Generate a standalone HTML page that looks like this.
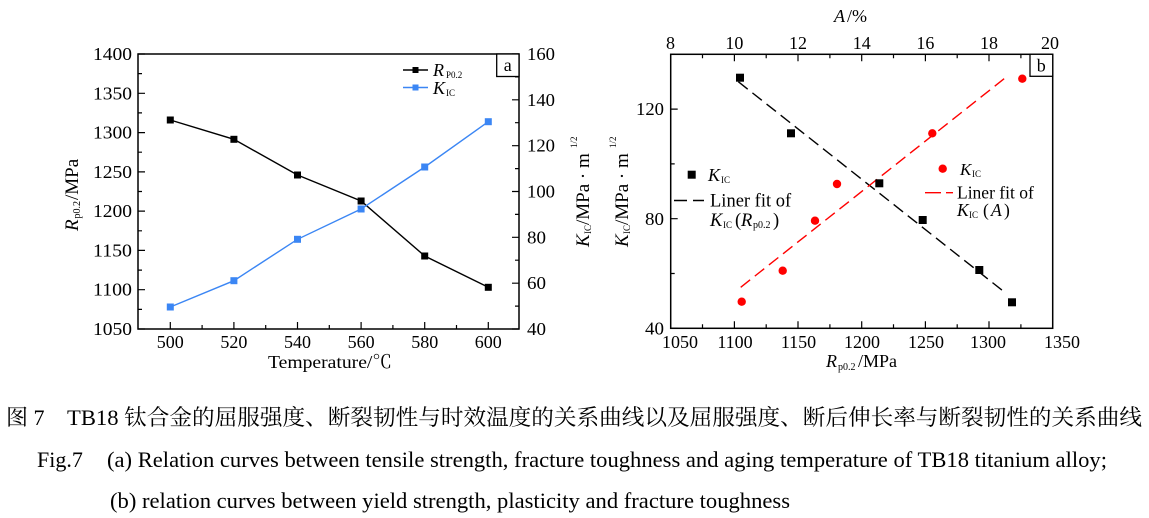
<!DOCTYPE html>
<html><head><meta charset="utf-8"><style>
html,body{margin:0;padding:0;background:#fff;}
svg{display:block;}
text{font-family:"Liberation Serif","Noto Serif CJK SC",serif;fill:#000;}
.cap{font-family:"Liberation Serif","Noto Serif CJK SC","Noto Sans CJK SC",serif;}
</style></head><body>
<svg width="1149" height="518" viewBox="0 0 1149 518" xmlns="http://www.w3.org/2000/svg">
<rect width="1149" height="518" fill="#fff"/>

<!-- ============ CHART A ============ -->
<g stroke="#000" stroke-width="1.5" fill="none">
<rect x="138" y="54" width="381" height="275"/>
</g>
<g stroke="#000" stroke-width="1.2">
<path d="M138 329h7M138 289.7h7M138 250.4h7M138 211.1h7M138 171.9h7M138 132.6h7M138 93.3h7M138 54h7"/>
<path d="M138 309.4h4M138 270.1h4M138 230.8h4M138 191.5h4M138 152.2h4M138 112.9h4M138 73.6h4"/>
<path d="M519 329h-7M519 283.2h-7M519 237.3h-7M519 191.5h-7M519 145.7h-7M519 99.8h-7M519 54h-7"/>
<path d="M519 306.1h-4M519 260.2h-4M519 214.4h-4M519 168.6h-4M519 122.7h-4M519 76.9h-4"/>
<path d="M170.3 329v-7M233.9 329v-7M297.5 329v-7M361.1 329v-7M424.7 329v-7M488.3 329v-7"/>
<path d="M202.1 329v-4M265.7 329v-4M329.3 329v-4M392.9 329v-4M456.5 329v-4"/>
</g>
<g font-size="18" text-anchor="end">
<text x="132" y="60" textLength="39" lengthAdjust="spacingAndGlyphs">1400</text>
<text x="132" y="99.3" textLength="39" lengthAdjust="spacingAndGlyphs">1350</text>
<text x="132" y="138.6" textLength="39" lengthAdjust="spacingAndGlyphs">1300</text>
<text x="132" y="177.9" textLength="39" lengthAdjust="spacingAndGlyphs">1250</text>
<text x="132" y="217.1" textLength="39" lengthAdjust="spacingAndGlyphs">1200</text>
<text x="132" y="256.4" textLength="39" lengthAdjust="spacingAndGlyphs">1150</text>
<text x="132" y="295.7" textLength="39" lengthAdjust="spacingAndGlyphs">1100</text>
<text x="132" y="335" textLength="39" lengthAdjust="spacingAndGlyphs">1050</text>
</g>
<g font-size="18" text-anchor="start">
<text x="527" y="60" textLength="28" lengthAdjust="spacingAndGlyphs">160</text>
<text x="527" y="105.8" textLength="28" lengthAdjust="spacingAndGlyphs">140</text>
<text x="527" y="151.7" textLength="28" lengthAdjust="spacingAndGlyphs">120</text>
<text x="527" y="197.5" textLength="28" lengthAdjust="spacingAndGlyphs">100</text>
<text x="527" y="243.3" textLength="19" lengthAdjust="spacingAndGlyphs">80</text>
<text x="527" y="289.2" textLength="19" lengthAdjust="spacingAndGlyphs">60</text>
<text x="527" y="335" textLength="19" lengthAdjust="spacingAndGlyphs">40</text>
</g>
<g font-size="18" text-anchor="middle">
<text x="170.3" y="348">500</text>
<text x="233.9" y="348">520</text>
<text x="297.5" y="348">540</text>
<text x="361.1" y="348">560</text>
<text x="424.7" y="348">580</text>
<text x="488.3" y="348">600</text>
</g>
<text x="268" y="368" font-size="18" textLength="124" lengthAdjust="spacingAndGlyphs">Temperature/℃</text>

<g transform="translate(78,231) rotate(-90)">
<text x="0" y="0" font-size="19" font-style="italic">R</text>
<text x="12.5" y="2" font-size="10">p0.2</text>
<text x="31" y="0" font-size="19">/MPa</text>
</g>
<g transform="translate(589,247) rotate(-90)">
<text x="0" y="0" font-size="19" font-style="italic">K</text>
<text x="13" y="2" font-size="9">IC</text>
<text x="22" y="0" font-size="19">/MPa · m</text>
<text x="99" y="-12" font-size="9">1/2</text>
</g>

<polyline points="170.3,120 233.9,139.3 297.5,175 361.1,201 424.7,256 488.3,287.3" fill="none" stroke="#000" stroke-width="1.4"/>
<polyline points="170.3,307 233.9,280.7 297.5,239.3 361.1,209 424.7,167 488.3,121.7" fill="none" stroke="#3b86f4" stroke-width="1.4"/>
<g fill="#000">
<rect x="166.8" y="116.5" width="7" height="7"/>
<rect x="230.4" y="135.8" width="7" height="7"/>
<rect x="294" y="171.5" width="7" height="7"/>
<rect x="357.6" y="197.5" width="7" height="7"/>
<rect x="421.2" y="252.5" width="7" height="7"/>
<rect x="484.8" y="283.8" width="7" height="7"/>
</g>
<g fill="#3b86f4">
<rect x="166.8" y="303.5" width="7" height="7"/>
<rect x="230.4" y="277.2" width="7" height="7"/>
<rect x="294" y="235.8" width="7" height="7"/>
<rect x="357.6" y="205.5" width="7" height="7"/>
<rect x="421.2" y="163.5" width="7" height="7"/>
<rect x="484.8" y="118.2" width="7" height="7"/>
</g>

<line x1="403" y1="70" x2="428" y2="70" stroke="#000" stroke-width="1.4"/>
<rect x="412.5" y="67" width="6" height="6" fill="#000"/>
<text x="433" y="76" font-size="18" font-style="italic">R</text>
<text x="446" y="78" font-size="9">P0.2</text>
<line x1="403" y1="87.5" x2="428" y2="87.5" stroke="#3b86f4" stroke-width="1.4"/>
<rect x="412.5" y="84.5" width="6" height="6" fill="#3b86f4"/>
<text x="433" y="94" font-size="18" font-style="italic">K</text>
<text x="446" y="96" font-size="9">IC</text>
<rect x="496.7" y="54" width="22.3" height="22.5" fill="#fff" stroke="#000" stroke-width="1.3"/>
<text x="507.8" y="71" font-size="18" text-anchor="middle">a</text>

<!-- ============ CHART B ============ -->
<rect x="670.7" y="54.3" width="382" height="274" fill="none" stroke="#000" stroke-width="1.5"/>
<g stroke="#000" stroke-width="1.2">
<path d="M670.7 328.3h7M670.7 218.7h7M670.7 109.1h7"/>
<path d="M670.7 273.5h4M670.7 163.9h4M670.7 54.3h4"/>
<path d="M734.4 328.3v-7M798 328.3v-7M861.7 328.3v-7M925.4 328.3v-7M989 328.3v-7"/>
<path d="M702.5 328.3v-4M766.2 328.3v-4M829.9 328.3v-4M893.5 328.3v-4M957.2 328.3v-4M1020.9 328.3v-4"/>
<path d="M734.4 54.3v7M798 54.3v7M861.7 54.3v7M925.4 54.3v7M989 54.3v7"/>
<path d="M702.5 54.3v4M766.2 54.3v4M829.9 54.3v4M893.5 54.3v4M957.2 54.3v4M1020.9 54.3v4"/>
</g>
<g font-size="18" text-anchor="end">
<text x="664" y="115" textLength="28" lengthAdjust="spacingAndGlyphs">120</text>
<text x="664" y="225" textLength="19" lengthAdjust="spacingAndGlyphs">80</text>
<text x="664" y="334.5" textLength="19" lengthAdjust="spacingAndGlyphs">40</text>
</g>
<g font-size="18" text-anchor="middle">
<text x="680" y="348">1050</text>
<text x="735" y="348">1100</text>
<text x="798.5" y="348">1150</text>
<text x="862" y="348">1200</text>
<text x="926" y="348">1250</text>
<text x="988" y="348">1300</text>
<text x="1062" y="348">1350</text>
</g>
<g font-size="18" text-anchor="middle">
<text x="670.5" y="49">8</text>
<text x="734.4" y="49">10</text>
<text x="798" y="49">12</text>
<text x="861.7" y="49">14</text>
<text x="925.4" y="49">16</text>
<text x="989" y="49">18</text>
<text x="1050" y="49">20</text>
</g>
<text x="834" y="22" font-size="18" font-style="italic">A</text>
<text x="847" y="22" font-size="18">/%</text>
<text x="826" y="367" font-size="18" font-style="italic">R</text>
<text x="838" y="370" font-size="10">p0.2</text>
<text x="858" y="367" font-size="18">/MPa</text>
<g transform="translate(628,247) rotate(-90)">
<text x="0" y="0" font-size="19" font-style="italic">K</text>
<text x="13" y="2" font-size="9">IC</text>
<text x="22" y="0" font-size="19">/MPa · m</text>
<text x="99" y="-12" font-size="9">1/2</text>
</g>

<line x1="738.3" y1="81.7" x2="1006" y2="293.3" stroke="#000" stroke-width="1.4" stroke-dasharray="12 6"/>
<line x1="740.7" y1="287.3" x2="1006.7" y2="76.7" stroke="#ff0000" stroke-width="1.4" stroke-dasharray="12 6"/>
<g fill="#000">
<rect x="736" y="73.7" width="8" height="8"/>
<rect x="787" y="129.3" width="8" height="8"/>
<rect x="875.3" y="179.3" width="8" height="8"/>
<rect x="918.7" y="216" width="8" height="8"/>
<rect x="975.3" y="266" width="8" height="8"/>
<rect x="1008" y="298.3" width="8" height="8"/>
</g>
<g fill="#ff0000">
<circle cx="741.7" cy="301.7" r="4.2"/>
<circle cx="782.7" cy="270.7" r="4.2"/>
<circle cx="815" cy="220.7" r="4.2"/>
<circle cx="837" cy="184" r="4.2"/>
<circle cx="932.3" cy="133.3" r="4.2"/>
<circle cx="1022.3" cy="78.7" r="4.2"/>
</g>

<rect x="687.7" y="170.7" width="8" height="8" fill="#000"/>
<text x="708" y="181" font-size="18" font-style="italic">K</text>
<text x="721" y="183" font-size="9">IC</text>
<line x1="674" y1="200.5" x2="704" y2="200.5" stroke="#000" stroke-width="1.4" stroke-dasharray="13 6"/>
<text x="710" y="206.5" font-size="18.5">Liner fit of</text>
<text x="710" y="226" font-size="18.5" font-style="italic">K</text>
<text x="723" y="228" font-size="9">IC</text>
<text x="735" y="226" font-size="18.5">(</text>
<text x="741" y="226" font-size="18.5" font-style="italic">R</text>
<text x="753" y="228" font-size="10">p0.2</text>
<text x="773" y="226" font-size="18.5">)</text>

<circle cx="942.7" cy="168.7" r="4.2" fill="#ff0000"/>
<text x="960" y="175" font-size="17" font-style="italic">K</text>
<text x="972" y="177" font-size="9">IC</text>
<line x1="925" y1="192.7" x2="953" y2="192.7" stroke="#ff0000" stroke-width="1.4" stroke-dasharray="16 5"/>
<text x="957" y="198.5" font-size="17.5">Liner fit of</text>
<text x="957" y="216" font-size="17.5" font-style="italic">K</text>
<text x="969" y="218" font-size="9">IC</text>
<text x="983" y="216" font-size="17.5">(</text>
<text x="991" y="216" font-size="17.5" font-style="italic">A</text>
<text x="1004" y="216" font-size="17.5">)</text>

<rect x="1030" y="54.3" width="22.7" height="22" fill="#fff" stroke="#000" stroke-width="1.3"/>
<text x="1041.3" y="71.5" font-size="18" text-anchor="middle">b</text>

<!-- ============ CAPTION ============ -->
<text class="cap" x="6" y="425" font-size="22">图 7</text>
<text class="cap" x="67" y="425" font-size="22" textLength="1075" lengthAdjust="spacingAndGlyphs">TB18 钛合金的屈服强度、断裂韧性与时效温度的关系曲线以及屈服强度、断后伸长率与断裂韧性的关系曲线</text>
<text class="cap" x="37" y="467" font-size="22">Fig.7</text>
<text class="cap" x="107" y="467" font-size="22" textLength="1000" lengthAdjust="spacingAndGlyphs">(a) Relation curves between tensile strength, fracture toughness and aging temperature of TB18 titanium alloy;</text>
<text class="cap" x="110" y="508" font-size="22" textLength="680" lengthAdjust="spacingAndGlyphs">(b) relation curves between yield strength, plasticity and fracture toughness</text>
</svg>
</body></html>
